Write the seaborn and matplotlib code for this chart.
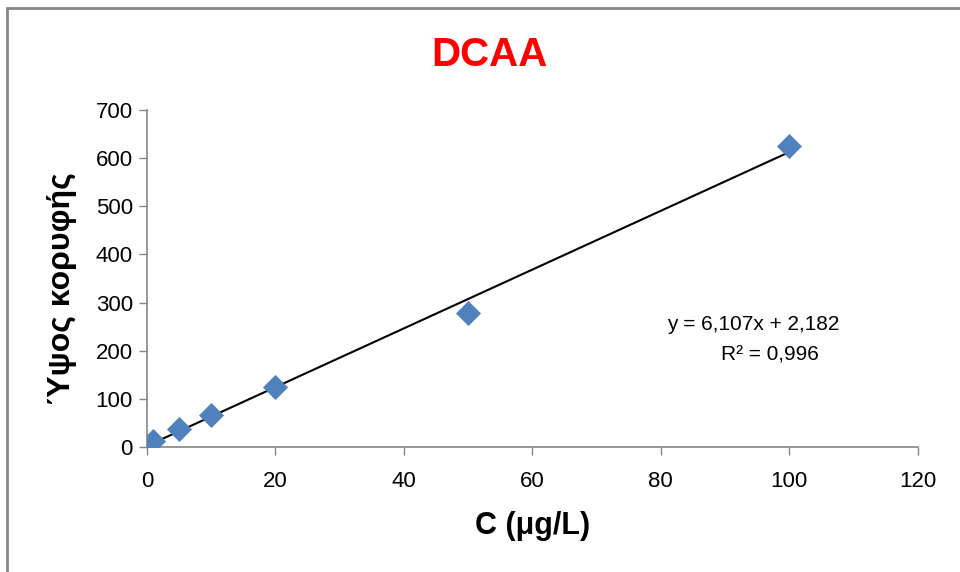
import matplotlib
matplotlib.use("Agg")
import matplotlib.pyplot as plt
import seaborn as sns
import pandas as pd
import numpy as np
from matplotlib.lines import Line2D

sns.set_theme(style="white")
plt.rcParams['font.family'] = ['Liberation Sans', 'DejaVu Sans']
plt.rcParams['text.color'] = 'black'

# Data
conc = [1, 5, 10, 20, 50, 100]
height = [12, 38, 67, 124, 278, 626]
slope = 6.107
intercept = 2.182
r2_text = "R² = 0,996"
eq_text = "y = 6,107x + 2,182"
x_ticks = [0, 20, 40, 60, 80, 100, 120]
y_ticks = [0, 100, 200, 300, 400, 500, 600, 700]

df = pd.DataFrame({"C": conc, "H": height})

fig = plt.figure(figsize=(9.6, 5.72), dpi=100)
ax = fig.add_axes([0.153, 0.2185, 0.803, 0.589])

# trendline
xl = np.array([min(conc), max(conc)])
ax.plot(xl, slope * xl + intercept, color="black", lw=1.5, zorder=2)

sns.scatterplot(data=df, x="C", y="H", marker="D", s=150, color="#4F81BD",
                edgecolor="#4F81BD", linewidth=0.5, ax=ax, zorder=3)

ax.set_xlim(0, 120)
ax.set_ylim(0, 700)
ax.set_xticks(x_ticks)
ax.set_yticks(y_ticks)
ax.tick_params(axis="both", which="major", labelsize=16, length=6, width=1,
               color="#868686", direction="out", bottom=True, left=True,
               labelcolor="black")
ax.tick_params(axis="x", pad=11)
ax.tick_params(axis="y", pad=4)
for s in ["top", "right"]:
    ax.spines[s].set_visible(False)
for s in ["left", "bottom"]:
    ax.spines[s].set_color("#868686")
    ax.spines[s].set_linewidth(1.2)

ax.set_xlabel("C (μg/L)", fontsize=22, fontweight="bold", color="black")
ax.set_ylabel("Ύψος κορυφής", fontsize=23, fontweight="bold", color="black")
ax.xaxis.label.set_va("center")
ax.yaxis.label.set_va("center")
ax.xaxis.set_label_coords(533 / 960, 1 - 526 / 572, transform=fig.transFigure)
ax.yaxis.set_label_coords(62 / 960, 1 - 289 / 572, transform=fig.transFigure)
ax.grid(False)

fig.text(489 / 960, 1 - 55 / 572, "DCAA", color="#FF0000", fontsize=29,
         fontweight="bold", ha="center", va="center")

fig.text(753 / 960, 1 - 325 / 572, eq_text, fontsize=15, ha="center",
         va="center", color="black")
fig.text(770 / 960, 1 - 355 / 572, r2_text, fontsize=15, ha="center",
         va="center", color="black")

# frame
fig.add_artist(Line2D([0.0073, 0.0073], [0, 0.986], transform=fig.transFigure,
                      color="#868686", lw=2))
fig.add_artist(Line2D([0.0073, 1.0], [0.986, 0.986], transform=fig.transFigure,
                      color="#868686", lw=2))

fig.savefig("out.png", dpi=100, facecolor="white")
